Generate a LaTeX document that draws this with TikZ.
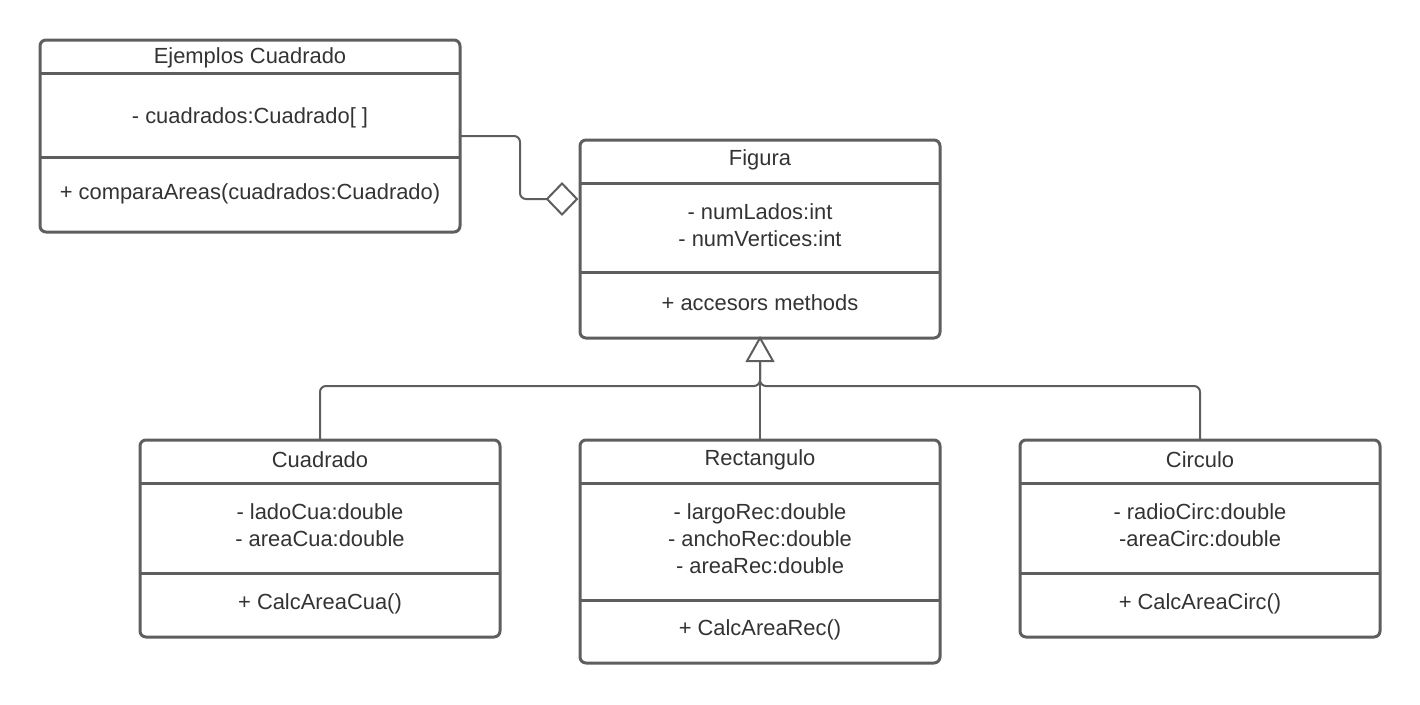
\documentclass[tikz,border=0pt]{standalone}
\usepackage{fontspec}
\setmainfont{Liberation Sans}
\usetikzlibrary{shapes.geometric,calc}
\definecolor{ln}{HTML}{5E5E5E}
\definecolor{tx}{HTML}{333333}
\begin{document}
\begin{tikzpicture}[x=1pt,y=-1pt,
  box/.style={draw=ln, line width=3pt, rounded corners=6pt, inner sep=0pt, outer sep=0pt, anchor=north west},
  lbl/.style={text=tx, font=\fontsize{21.9}{27}\selectfont, inner sep=0pt, align=center},
  sep/.style={draw=ln, line width=3pt},
  conn/.style={draw=ln, line width=2pt, rounded corners=6pt}]
\useasboundingbox (0,0) rectangle (1420,704);
% Ejemplos Cuadrado
\node[box, minimum width=420pt, minimum height=192pt] (ej) at (40,40) {};
\draw[sep] ($(ej.north west)+(0,33)$) -- ($(ej.north east)+(0,33)$);
\draw[sep] ($(ej.north west)+(0,117)$) -- ($(ej.north east)+(0,117)$);
\node[lbl] (ejt) at (250,58) {Ejemplos Cuadrado};
\node[lbl] (eja) at (250,118) {- cuadrados:Cuadrado[ ]};
\node[lbl] (ejm) at (250,194) {+ comparaAreas(cuadrados:Cuadrado)};
% Figura
\node[box, minimum width=360pt, minimum height=198pt] (fig) at (580,140) {};
\draw[sep] ($(fig.north west)+(0,43)$) -- ($(fig.north east)+(0,43)$);
\draw[sep] ($(fig.north west)+(0,132)$) -- ($(fig.north east)+(0,132)$);
\node[lbl] (figt) at (760,160) {Figura};
\node[lbl] (figa) at (760,225.5) {- numLados:int\\- numVertices:int};
\node[lbl] (figm) at (760,303) {+ accesors methods};
% Cuadrado
\node[box, minimum width=360pt, minimum height=197pt] (cua) at (140,440) {};
\draw[sep] ($(cua.north west)+(0,43)$) -- ($(cua.north east)+(0,43)$);
\draw[sep] ($(cua.north west)+(0,133)$) -- ($(cua.north east)+(0,133)$);
\node[lbl] (cuat) at (320,460) {Cuadrado};
\node[lbl] (cuaa) at (320,525.5) {- ladoCua:double\\- areaCua:double};
\node[lbl] (cuam) at (320,604) {+ CalcAreaCua()};
% Rectangulo
\node[box, minimum width=360pt, minimum height=223pt] (rec) at (580,440) {};
\draw[sep] ($(rec.north west)+(0,43)$) -- ($(rec.north east)+(0,43)$);
\draw[sep] ($(rec.north west)+(0,160)$) -- ($(rec.north east)+(0,160)$);
\node[lbl] (rect) at (760,460) {Rectangulo};
\node[lbl] (reca) at (760,538.5) {- largoRec:double\\- anchoRec:double\\- areaRec:double};
\node[lbl] (recm) at (760,630) {+ CalcAreaRec()};
% Circulo
\node[box, minimum width=360pt, minimum height=197pt] (cir) at (1020,440) {};
\draw[sep] ($(cir.north west)+(0,43)$) -- ($(cir.north east)+(0,43)$);
\draw[sep] ($(cir.north west)+(0,133)$) -- ($(cir.north east)+(0,133)$);
\node[lbl] (cirt) at (1200,460) {Circulo};
\node[lbl] (cira) at (1200,525.5) {- radioCirc:double\\-areaCirc:double};
\node[lbl] (cirm) at (1200,604) {+ CalcAreaCirc()};
% Aggregation
\node[diamond, draw=ln, line width=2pt, fill=white, minimum width=30pt, minimum height=31pt, inner sep=0pt, outer sep=0pt] (dia) at (562,199) {};
\draw[conn] (ej.east) -| (520,199) -- (dia.west);
% Generalization
\coordinate (tb) at ($(fig.south)+(0,23)$);
\coordinate (jn) at ($(tb)+(0,25)$);
\draw[conn] (rec.north) -- (tb);
\draw[conn] (cua.north) |- (jn) -- (tb);
\draw[conn] (cir.north) |- (jn) -- (tb);
\draw[draw=ln, line width=2pt, fill=white, line join=miter] (fig.south) -- ($(tb)+(13,0)$) -- ($(tb)+(-13,0)$) -- cycle;
\end{tikzpicture}
\end{document}
